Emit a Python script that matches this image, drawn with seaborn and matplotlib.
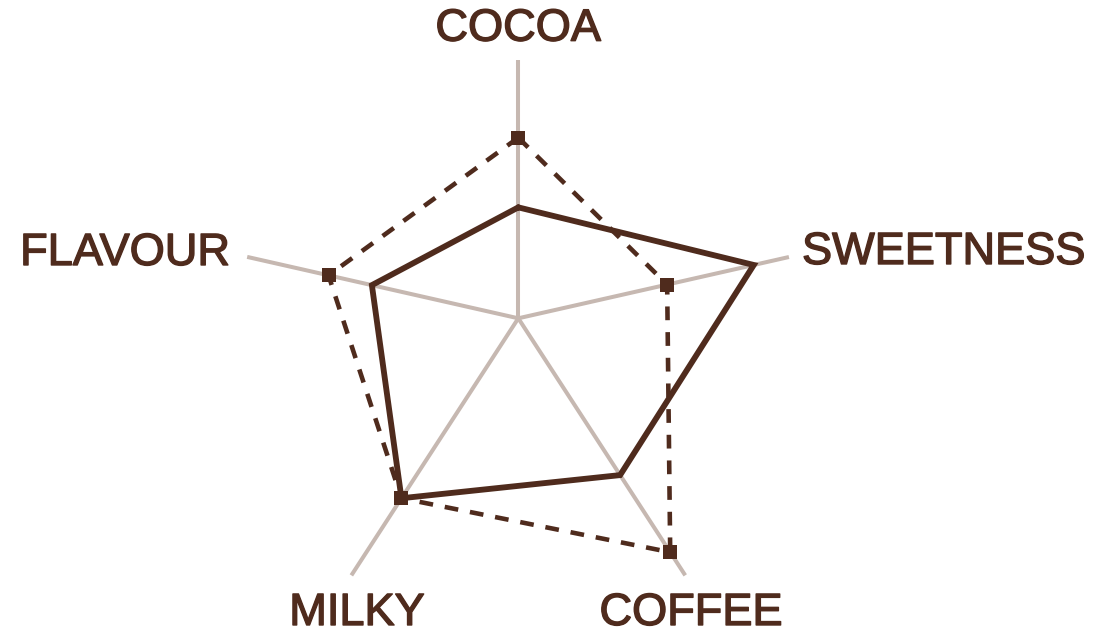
import numpy as np
import pandas as pd
import matplotlib
matplotlib.use("Agg")
import matplotlib.pyplot as plt
import matplotlib.patheffects as pe
import seaborn as sns

# ---- data ----
categories = ["COCOA", "SWEETNESS", "COFFEE", "MILKY", "FLAVOUR"]
series_solid = [4.3, 8.7, 6.1, 7.0, 5.4]      # scores on 0-10 per axis
series_dashed = [7.0, 5.5, 9.1, 7.0, 7.0]
scale_max = 10.0

# ---- layout (pixel space) ----
W, H = 1110, 640
cx, cy = 518.3, 318.3
angles_deg = [90.0, 12.76, -57.0, -123.0, 167.24]
axis_len = [258.0, 277.5, 306.5, 306.5, 278.0]

brown = "#4f2b1d"
axis_col = "#c6b8b1"

sns.set_theme(style="white")
plt.rcParams["font.family"] = ["Liberation Sans", "DejaVu Sans"]

fig = plt.figure(figsize=(W / 100, H / 100), dpi=100)
ax = fig.add_axes([0, 0, 1, 1])
ax.set_xlim(0, W)
ax.set_ylim(H, 0)
ax.axis("off")

ang = np.deg2rad(angles_deg)
L = np.array(axis_len)

# axis spokes
for a, l in zip(ang, L):
    ax.plot([cx, cx + l * np.cos(a)], [cy, cy - l * np.sin(a)],
            color=axis_col, lw=2.9, solid_capstyle="butt", zorder=1)


def to_xy(vals):
    r = np.array(vals) / scale_max * L
    x = cx + r * np.cos(ang)
    y = cy - r * np.sin(ang)
    x = np.append(x, x[0])
    y = np.append(y, y[0])
    return pd.DataFrame({"x": x, "y": y, "order": np.arange(len(x))})


df_d = to_xy(series_dashed)
df_s = to_xy(series_solid)

sns.lineplot(data=df_d, x="x", y="y", sort=False, estimator=None, ax=ax,
             color=brown, lw=3.3, linestyle=(0, (3.0, 2.6)), zorder=2,
             legend=False)
ax.plot(df_d["x"][:-1], df_d["y"][:-1], linestyle="none", marker="s",
        markersize=9.8, color=brown, markeredgewidth=0, zorder=4)

sns.lineplot(data=df_s, x="x", y="y", sort=False, estimator=None, ax=ax,
             color=brown, lw=4.2, zorder=3, legend=False)
ax.lines[-1].set_solid_joinstyle("miter")

# labels
fs = 32.5
txt = dict(color=brown, fontsize=fs, va="baseline",
           path_effects=[pe.withStroke(linewidth=1.0, foreground=brown)])
ax.text(518, 40.7, categories[0], ha="center", **txt)
ax.text(802, 264, categories[1], ha="left", **txt)
ax.text(691, 625, categories[2], ha="center", **txt)
ax.text(357, 625, categories[3], ha="center", **txt)
ax.text(230, 265, categories[4], ha="right", **txt)

fig.savefig("out.png", dpi=100)
